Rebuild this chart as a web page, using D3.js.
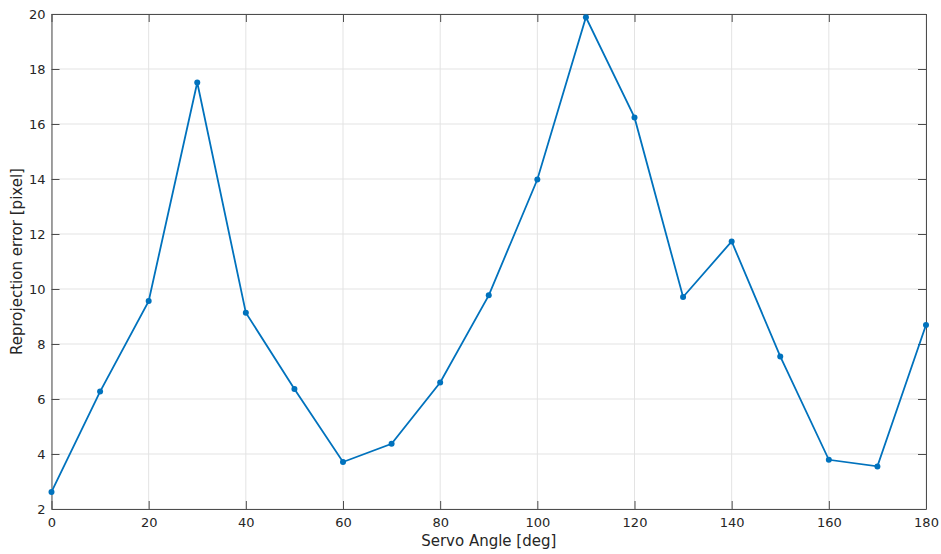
<!DOCTYPE html>
<html>
<head>
<meta charset="utf-8">
<script src="https://cdn.jsdelivr.net/npm/d3@7"></script>
<style>
  body { margin: 0; background: #fff; }
  svg { display: block; }
  svg text { font-family: "DejaVu Sans", sans-serif; }
</style>
</head>
<body>
<svg class="chart"></svg>
<script>
// Data
var angles = [0, 10, 20, 30, 40, 50, 60, 70, 80, 90, 100, 110, 120, 130, 140, 150, 160, 170, 180];
var errors = [2.62, 6.27, 9.56, 17.51, 9.14, 6.36, 3.71, 4.37, 6.60, 9.77, 13.98, 19.88, 16.24, 9.71, 11.73, 7.55, 3.79, 3.55, 8.69];
var xTicks = [0, 20, 40, 60, 80, 100, 120, 140, 160, 180];
var yTicks = [2, 4, 6, 8, 10, 12, 14, 16, 18, 20];

var width = 941, height = 554;
var margin = {top: 14, right: 15, bottom: 45, left: 51.5};
var w = width - margin.left - margin.right,
    h = height - margin.top - margin.bottom;

var svg = d3.select(".chart")
  .attr("width", width)
  .attr("height", height);

var g = svg.append("g")
  .attr("transform", "translate(" + margin.left + "," + margin.top + ")");

var x = d3.scaleLinear().domain([0, 180]).range([0, w]);
var y = d3.scaleLinear().domain([2, 20]).range([h, 0]);

// grid
g.append("g").selectAll("line")
  .data(xTicks)
  .enter().append("line")
  .attr("x1", d => x(d)).attr("x2", d => x(d))
  .attr("y1", 0).attr("y2", h)
  .attr("stroke", "#e3e3e3").attr("stroke-width", 1);
g.append("g").selectAll("line")
  .data(yTicks)
  .enter().append("line")
  .attr("y1", d => y(d)).attr("y2", d => y(d))
  .attr("x1", 0).attr("x2", w)
  .attr("stroke", "#e3e3e3").attr("stroke-width", 1);

// axes (MATLAB style: ticks inward on all four sides)
var axisColor = "#4d4d4d";
function styleAxis(sel) {
  sel.attr("font-family", "DejaVu Sans, sans-serif");
  sel.select(".domain").attr("stroke", axisColor);
  sel.selectAll(".tick line").attr("stroke", axisColor);
  sel.selectAll(".tick text").attr("fill", "#262626").style("font-size", "13px");
}

g.append("g")
  .attr("transform", "translate(0," + h + ")")
  .call(d3.axisBottom(x).tickValues(xTicks).tickSize(-8).tickSizeOuter(0).tickPadding(9))
  .call(styleAxis);
g.append("g")
  .call(d3.axisTop(x).tickValues(xTicks).tickSize(-8).tickSizeOuter(0).tickFormat(""))
  .call(styleAxis);
g.append("g")
  .call(d3.axisLeft(y).tickValues(yTicks).tickSize(-8).tickSizeOuter(0).tickPadding(6))
  .call(styleAxis);
g.append("g")
  .attr("transform", "translate(" + w + ",0)")
  .call(d3.axisRight(y).tickValues(yTicks).tickSize(-8).tickSizeOuter(0).tickFormat(""))
  .call(styleAxis);

// line + markers
var pts = angles.map((a, i) => [a, errors[i]]);
g.append("path")
  .datum(pts)
  .attr("fill", "none")
  .attr("stroke", "#0072BD")
  .attr("stroke-width", 1.8)
  .attr("d", d3.line().x(d => x(d[0])).y(d => y(d[1])));

g.selectAll(".pt")
  .data(pts)
  .enter().append("circle")
  .attr("class", "pt")
  .attr("cx", d => x(d[0]))
  .attr("cy", d => y(d[1]))
  .attr("r", 3)
  .attr("fill", "#0072BD");

// labels
svg.append("text")
  .attr("x", margin.left + w / 2)
  .attr("y", 546)
  .attr("text-anchor", "middle")
  .attr("fill", "#262626")
  .style("font-size", "15px")
  .text("Servo Angle [deg]");

svg.append("text")
  .attr("transform", "translate(22," + (margin.top + h / 2) + ") rotate(-90)")
  .attr("text-anchor", "middle")
  .attr("fill", "#262626")
  .style("font-size", "15px")
  .text("Reprojection error [pixel]");
</script>
</body>
</html>
